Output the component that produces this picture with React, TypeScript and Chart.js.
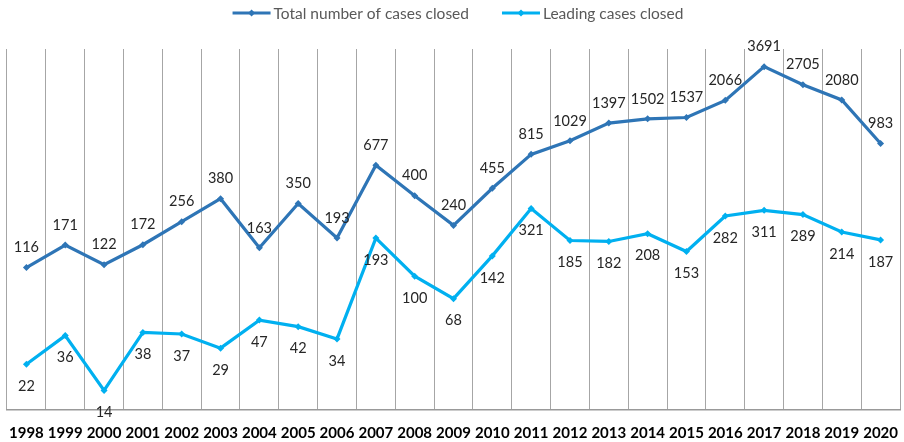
import React, { useEffect, useRef } from "react";
import { Chart, registerables } from "chart.js";

Chart.register(...registerables);

const years = ["1998","1999","2000","2001","2002","2003","2004","2005","2006","2007","2008","2009","2010","2011","2012","2013","2014","2015","2016","2017","2018","2019","2020"];
const totalClosed = [116,171,122,172,256,380,163,350,193,677,400,240,455,815,1029,1397,1502,1537,2066,3691,2705,2080,983];
const leadingClosed = [22,36,14,38,37,29,47,42,34,193,100,68,142,321,185,182,208,153,282,311,289,214,187];
const seriesNames = ["Total number of cases closed", "Leading cases closed"];
const seriesColors = ["#2E75B6", "#00B0F0"];

const FONT = "Lato, 'Open Sans', sans-serif";

const dataLabelPlugin = {
  id: "dataLabels",
  afterDatasetsDraw(chart: any) {
    const ctx = chart.ctx;
    ctx.save();
    ctx.font = `14.5px ${FONT}`;
    ctx.fillStyle = "#262626";
    ctx.textAlign = "center";
    ctx.textBaseline = "middle";
    chart.data.datasets.forEach((ds: any, di: number) => {
      const meta = chart.getDatasetMeta(di);
      meta.data.forEach((pt: any, i: number) => {
        const off = di === 0 ? -20 : 22;
        ctx.fillText(String(ds.data[i]), pt.x, pt.y + off);
      });
    });
    ctx.restore();
  },
};

const legendPlugin = {
  id: "customLegend",
  afterDraw(chart: any) {
    const ctx = chart.ctx;
    ctx.save();
    ctx.font = `15.5px ${FONT}`;
    const sampleW = 38, gap = 3, itemGap = 33;
    const widths = seriesNames.map((n) => sampleW + gap + ctx.measureText(n).width);
    const total = widths.reduce((a, b) => a + b, 0) + itemGap * (widths.length - 1);
    let x = 458 - total / 2;
    const y = 13;
    seriesNames.forEach((n, i) => {
      const c = seriesColors[i];
      ctx.strokeStyle = c;
      ctx.lineWidth = 3;
      ctx.beginPath();
      ctx.moveTo(x, y);
      ctx.lineTo(x + sampleW, y);
      ctx.stroke();
      ctx.fillStyle = c;
      ctx.beginPath();
      const cx = x + sampleW / 2;
      ctx.moveTo(cx, y - 3.5);
      ctx.lineTo(cx + 3.5, y);
      ctx.lineTo(cx, y + 3.5);
      ctx.lineTo(cx - 3.5, y);
      ctx.closePath();
      ctx.fill();
      ctx.fillStyle = "#595959";
      ctx.textAlign = "left";
      ctx.textBaseline = "middle";
      ctx.fillText(n, x + sampleW + gap, y + 1);
      x += widths[i] + itemGap;
    });
    ctx.restore();
  },
};

export default function App() {
  const ref = useRef<HTMLCanvasElement | null>(null);
  useEffect(() => {
    if (!ref.current) return;
    const chart = new Chart(ref.current, {
      type: "line",
      data: {
        labels: years,
        datasets: [
          {
            label: seriesNames[0],
            data: totalClosed,
            borderColor: seriesColors[0],
            backgroundColor: seriesColors[0],
            borderWidth: 3.2,
            pointStyle: "rectRot",
            pointRadius: 3.5,
            pointBorderWidth: 0,
            tension: 0,
          },
          {
            label: seriesNames[1],
            data: leadingClosed,
            borderColor: seriesColors[1],
            backgroundColor: seriesColors[1],
            borderWidth: 3.2,
            pointStyle: "rectRot",
            pointRadius: 3.5,
            pointBorderWidth: 0,
            tension: 0,
          },
        ],
      },
      options: {
        responsive: false,
        animation: false,
        layout: { padding: { left: 7, right: 0, top: 49, bottom: 0 } },
        plugins: {
          legend: { display: false },
          tooltip: { enabled: false },
        },
        scales: {
          x: {
            offset: true,
            grid: {
              offset: true,
              color: (c: any) => (c.index >= years.length ? "rgba(0,0,0,0)" : "#A6A6A6"),
              lineWidth: 1,
              drawTicks: false,
            },
            border: { display: true, color: "#999999", width: 1.5 },
            ticks: {
              color: "#000000",
              font: { family: FONT, size: 15, weight: "bold" },
              padding: 14,
              maxRotation: 0,
              autoSkip: false,
            },
            afterFit: (s: any) => {
              s.height = 32;
              s.paddingLeft = 0;
              s.paddingRight = 0;
            },
          },
          y: {
            type: "logarithmic",
            min: 10,
            max: 5000,
            display: false,
          },
        },
      },
      plugins: [dataLabelPlugin, legendPlugin],
    });
    return () => chart.destroy();
  }, []);
  return (
    <div style={{ position: "fixed", left: 0, top: 0, width: 904, height: 442, background: "#fff" }}>
      <canvas ref={ref} width={904} height={442} />
    </div>
  );
}
